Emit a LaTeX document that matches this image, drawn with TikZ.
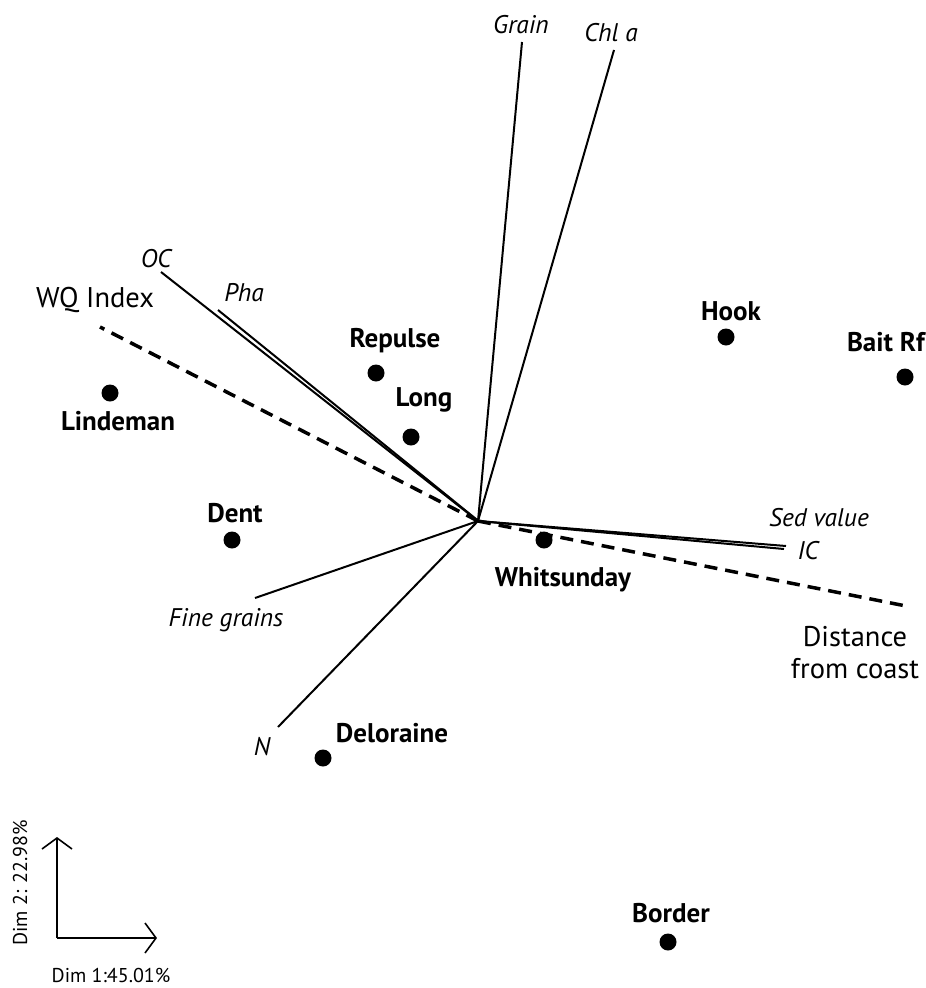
\documentclass[tikz,border=0pt]{standalone}
\usepackage{fontspec}
\setmainfont{PT Sans}
\usetikzlibrary{arrows.meta}
\begin{document}
\begin{tikzpicture}[x=1pt,y=-1pt,
  vec/.style={line width=2pt},
  dsh/.style={line width=3.5pt,dash pattern=on 13pt off 8pt},
  site/.style={circle,fill=black,inner sep=0pt,minimum size=17pt},
  sitelab/.style={font=\fontsize{27}{30}\selectfont\bfseries},
  varlab/.style={font=\fontsize{25.5}{28}\selectfont\itshape},
  axlab/.style={font=\fontsize{28.5}{32}\selectfont},
  dimlab/.style={font=\fontsize{20}{24}\selectfont},
  axarr/.style={line width=1.6pt,-{Straight Barb[length=11pt,width=30pt,line width=1.6pt]}}]
\useasboundingbox (0,0) rectangle (926,988);
\fill[white] (0,0) rectangle (926,988);
\coordinate (c) at (478,521);
\coordinate (c2) at (476,519);
% vector ends
\coordinate (grain) at (522,42);
\coordinate (chla) at (614,50);
\coordinate (oc) at (161,272);
\coordinate (pha) at (218,310);
\coordinate (sed) at (786,546);
\coordinate (ic) at (784,549);
\coordinate (fine) at (255,598);
\coordinate (n) at (278,727);
\coordinate (wq) at (100,327);
\coordinate (dist) at (906,606);
\draw[vec] (c) -- (grain);
\draw[vec] (c) -- (chla);
\draw[vec] (c) -- (oc);
\draw[vec] (c2) -- (pha);
\draw[vec] (c) -- (sed);
\draw[vec] (c) -- (ic);
\draw[vec] (c) -- (fine);
\draw[vec] (c) -- (n);
\draw[dsh] (c) -- (wq);
\draw[dsh] (c) -- (dist);
% variable labels
\node[varlab] (lgrain) at (521,25) {Grain};
\node[varlab] (lchla) at (611,33) {Chl \textit{a}};
\node[varlab] (loc) at (156,259) {OC};
\node[varlab] (lpha) at (244,293) {Pha};
\node[varlab] (lsed) at (819,518) {Sed value};
\node[varlab] (lic) at (808,551) {IC};
\node[varlab] (lfine) at (226,620) {Fine grains};
\node[varlab] (ln) at (262,747) {N};
\node[axlab] (lwq) at (95,300) {WQ Index};
\node[axlab,align=center] (ldist) at (855,653) {Distance\\from coast};
% sites
\node[site] (hook) at (726,337) {};
\node[sitelab] (lhook) at (731,311) {Hook};
\node[site] (bait) at (905,377) {};
\node[sitelab,anchor=east,inner xsep=1pt] (lbait) at (926,342) {Bait Rf};
\node[site] (repulse) at (376,373) {};
\node[sitelab] (lrepulse) at (395,341) {Repulse};
\node[site] (long) at (411,437) {};
\node[sitelab] (llong) at (424,400) {Long};
\node[site] (lind) at (110,393) {};
\node[sitelab] (llind) at (118,421) {Lindeman};
\node[site] (dent) at (232,540) {};
\node[sitelab] (ldent) at (235,513) {Dent};
\node[site] (whit) at (544,540) {};
\node[sitelab] (lwhit) at (563,580) {Whitsunday};
\node[site] (delo) at (323,758) {};
\node[sitelab] (ldelo) at (392,733) {Deloraine};
\node[site] (border) at (668,942) {};
\node[sitelab] (lborder) at (671,913) {Border};
% dimension axes
\coordinate (o) at (57,938);
\coordinate (ytip) at (57,837);
\coordinate (xtip) at (157,938);
\draw[axarr] (o) -- (ytip);
\draw[axarr] (o) -- (xtip);
\node[dimlab,rotate=90] (d2) at (20,883) {Dim 2: 22.98\%};
\node[dimlab] (d1) at (111,975) {Dim 1:45.01\%};
\end{tikzpicture}
\end{document}
